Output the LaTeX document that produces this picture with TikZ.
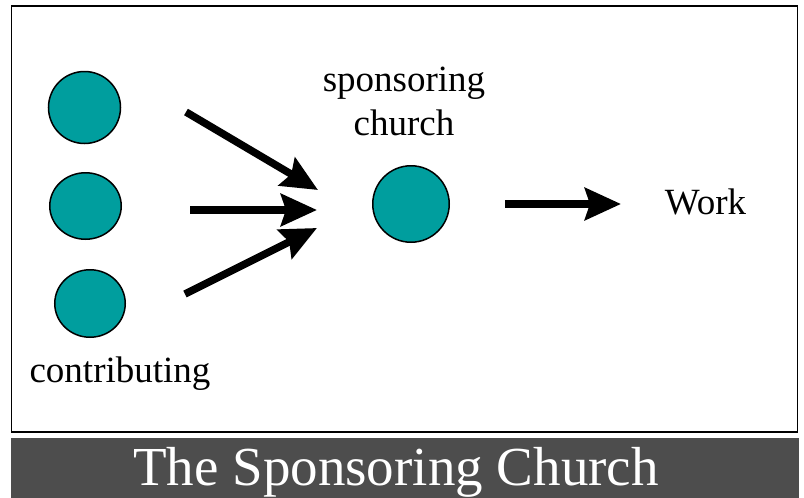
\documentclass[tikz,border=0pt]{standalone}
\usepackage{fontspec}
\setmainfont{Liberation Serif}
\usetikzlibrary{arrows.meta,shapes.geometric}
\definecolor{tealc}{RGB}{0,158,158}
\definecolor{bannergray}{RGB}{77,77,77}
\begin{document}
\begin{tikzpicture}[x=1pt,y=-1pt,
  dot/.style={ellipse,draw=black,line width=1.5pt,fill=tealc,inner sep=0pt},
  bigarrow/.style={line width=7.5pt,-{Stealth[length=36pt,width=32pt,inset=5pt]}},
  lbl/.style={font=\fontsize{37}{44}\selectfont,inner sep=0pt,align=center,anchor=base}]
\useasboundingbox (0,0) rectangle (804,498);
\fill[white] (0,0) rectangle (804,498);
\draw[line width=1.3pt] (11.5,6) rectangle (797.5,432);
\fill[bannergray] (11,438) rectangle (799,498);
% circles
\node[dot,minimum width=72pt,minimum height=72pt] (c1) at (84.5,107.5) {};
\node[dot,minimum width=71.5pt,minimum height=66.5pt] (c2) at (85.5,206) {};
\node[dot,minimum width=70.5pt,minimum height=67.5pt] (c3) at (90,303.5) {};
\node[dot,minimum width=76.5pt,minimum height=76.5pt] (cs) at (411,204) {};
% labels
\node[lbl] (sp) at (404,135) {sponsoring\\church};
\node[lbl] (work) at (705.5,214) {Work};
\node[lbl] (contrib) at (120,382) {contributing};
\node[font=\fontsize{55}{60}\selectfont,text=white,inner sep=0pt,anchor=base] (title) at (396,485) {The Sponsoring Church};
% arrow end points
\coordinate (a1s) at (186,112);
\coordinate (a1e) at (318,190);
\coordinate (a2s) at (190,210);
\coordinate (a2e) at (317,210);
\coordinate (a3s) at (185,294);
\coordinate (a3e) at (317,228);
\coordinate (a4s) at (505,204);
\coordinate (a4e) at (621,204);
\draw[bigarrow] (a1s) -- (a1e);
\draw[bigarrow] (a2s) -- (a2e);
\draw[bigarrow] (a3s) -- (a3e);
\draw[bigarrow] (a4s) -- (a4e);
\end{tikzpicture}
\end{document}
